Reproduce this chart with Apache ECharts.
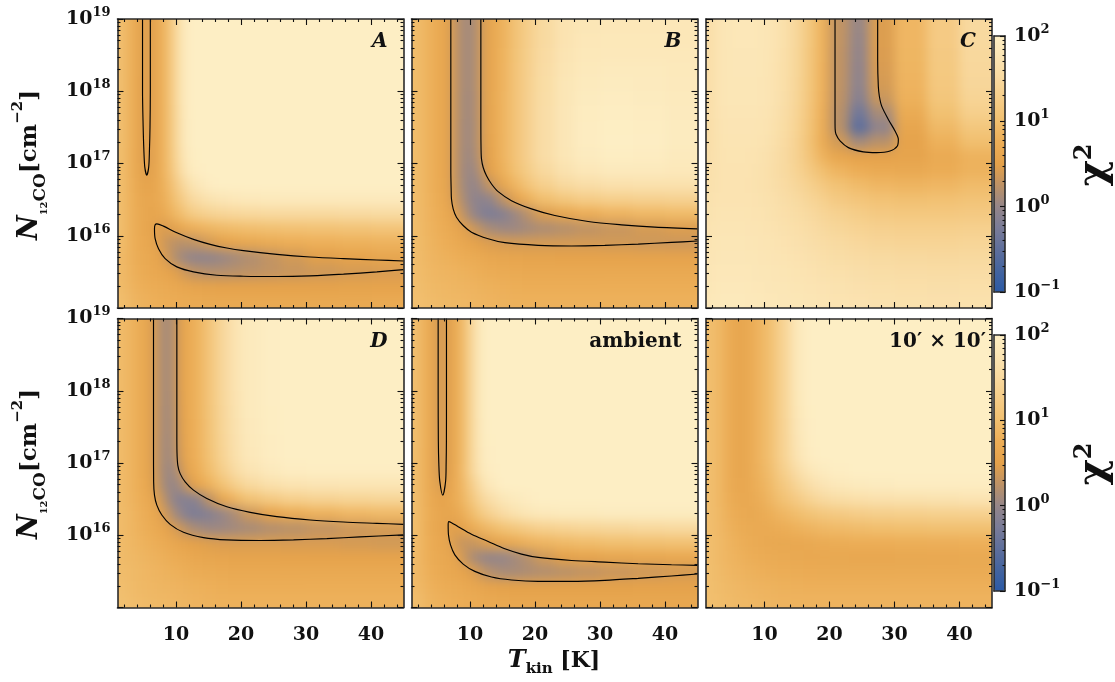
<!DOCTYPE html>
<html><head><meta charset="utf-8">
<script src="https://cdn.jsdelivr.net/npm/echarts@6.0.0/dist/echarts.min.js"></script>
<style>html,body{margin:0;padding:0;background:#fff}#wrap{position:relative;width:1115px;height:682px;overflow:hidden}
#c{position:absolute;left:0;top:0;width:1115px;height:682px;z-index:5}</style>
</head><body><div id="wrap"><div id="c"></div></div>
<script>
// ---------------- DATA ----------------
// cell edges of the chi^2 grids: Tkin [K] and log10 N(12CO) [cm^-2] (rows listed top -> bottom)
const tkinEdges = [1,2,3,4,5,6,7,8,9,10,11,12,14,16,18,20,23,26,30,35,40,45];
const logNEdges = [19,18.8,18.6,18.4,18.2,18,17.8,17.6,17.4,17.2,17,16.8,16.6,16.4,16.2,16,15.8,15.6,15.4,15.2,15];
const xMajorTicks = [10,20,30,40];
const xMinorTicks = [2,4,6,8,12,14,16,18,22,24,26,28,32,34,36,38,42,44];
const yDecades = [15,16,17,18];
const yMajorTicks = [15,16,17,18,19];
const yLabelTicks = [16,17,18,19];
const cbDecades = [-1,0,1];
const cbLabelTicks = [-1,0,1,2];
const minorMultipliers = [2,3,4,5,6,7,8,9];
const panelLabels = ['A','B','C','D','ambient','10\u2032 \u00d7 10\u2032'];

// log10(chi^2), rows top (logN 18.9) -> bottom (15.1)
const chiA = [
[1.02,0.86,0.7,0.56,0.42,0.55,0.72,0.95,1.3,1.7,1.95,2,2,2,2,2,2,2,2,2,2],
[1.02,0.86,0.7,0.56,0.42,0.55,0.72,0.95,1.3,1.7,1.95,2,2,2,2,2,2,2,2,2,2],
[1.02,0.86,0.7,0.56,0.42,0.55,0.72,0.95,1.3,1.7,1.95,2,2,2,2,2,2,2,2,2,2],
[1.02,0.86,0.7,0.56,0.42,0.55,0.72,0.95,1.3,1.7,1.95,2,2,2,2,2,2,2,2,2,2],
[1.02,0.86,0.7,0.55,0.42,0.55,0.72,0.95,1.3,1.7,1.95,2,2,2,2,2,2,2,2,2,2],
[1.02,0.86,0.7,0.55,0.42,0.55,0.72,0.95,1.3,1.7,1.95,2,2,2,2,2,2,2,2,2,2],
[1.02,0.86,0.7,0.55,0.42,0.55,0.72,0.95,1.29,1.68,1.94,2,2,2,2,2,2,2,2,2,2],
[1.02,0.86,0.7,0.55,0.42,0.55,0.72,0.95,1.28,1.67,1.93,2,2,2,2,2,2,2,2,2,2],
[1.01,0.86,0.7,0.55,0.42,0.55,0.72,0.95,1.28,1.66,1.92,2,2,2,2,2,2,2,2,2,2],
[1.0,0.85,0.7,0.55,0.42,0.55,0.72,0.95,1.26,1.63,1.88,1.99,2,2,2,2,2,2,2,2,2],
[1.0,0.85,0.7,0.56,0.46,0.56,0.72,0.93,1.22,1.55,1.8,1.95,2,2,2,2,2,2,2,2,2],
[1.0,0.85,0.72,0.6,0.55,0.6,0.7,0.88,1.1,1.35,1.55,1.8,1.95,2,2,2,2,2,2,2,2],
[1.0,0.85,0.74,0.64,0.6,0.62,0.68,0.82,1.0,1.18,1.35,1.55,1.7,1.78,1.82,1.85,1.87,1.88,1.88,1.88,1.88],
[1.0,0.86,0.75,0.66,0.6,0.58,0.62,0.72,0.85,0.98,1.1,1.26,1.36,1.42,1.46,1.48,1.5,1.5,1.5,1.52,1.54],
[1.0,0.86,0.74,0.66,0.6,0.55,0.45,0.42,0.5,0.6,0.68,0.78,0.86,0.92,0.96,0.99,1.02,1.04,1.06,1.08,1.1],
[0.98,0.86,0.75,0.68,0.62,0.58,0.45,0.32,0.25,0.22,0.22,0.28,0.4,0.5,0.58,0.64,0.7,0.74,0.78,0.8,0.82],
[0.95,0.85,0.76,0.7,0.66,0.62,0.55,0.4,0.22,0.1,0.02,-0.05,-0.05,0.02,0.1,0.18,0.28,0.38,0.48,0.55,0.6],
[0.95,0.86,0.78,0.72,0.68,0.65,0.62,0.58,0.5,0.42,0.35,0.25,0.2,0.2,0.22,0.25,0.28,0.32,0.36,0.4,0.42],
[0.96,0.88,0.82,0.78,0.75,0.72,0.7,0.68,0.65,0.62,0.6,0.56,0.54,0.53,0.53,0.53,0.53,0.53,0.53,0.54,0.55],
[1.0,0.92,0.86,0.82,0.8,0.78,0.76,0.74,0.72,0.71,0.7,0.68,0.67,0.66,0.66,0.66,0.66,0.66,0.66,0.67,0.68]
];
const chiB = [
[0.98,0.9,0.82,0.74,0.64,0.56,0.35,0.15,0.08,0.12,0.35,0.6,0.82,1.08,1.3,1.52,1.72,1.8,1.82,1.82,1.82],
[0.98,0.9,0.82,0.74,0.64,0.56,0.35,0.15,0.08,0.12,0.35,0.6,0.82,1.08,1.31,1.53,1.73,1.82,1.84,1.84,1.83],
[0.98,0.9,0.82,0.74,0.64,0.56,0.35,0.15,0.08,0.12,0.35,0.6,0.83,1.09,1.32,1.55,1.75,1.84,1.86,1.86,1.85],
[0.98,0.9,0.82,0.74,0.64,0.56,0.35,0.15,0.08,0.12,0.35,0.6,0.84,1.1,1.33,1.57,1.77,1.87,1.89,1.89,1.87],
[0.98,0.9,0.82,0.74,0.64,0.56,0.35,0.15,0.08,0.12,0.35,0.6,0.84,1.1,1.34,1.58,1.79,1.9,1.92,1.91,1.88],
[0.98,0.9,0.82,0.74,0.64,0.56,0.35,0.14,0.07,0.11,0.34,0.6,0.85,1.1,1.35,1.59,1.8,1.92,1.95,1.93,1.9],
[0.98,0.9,0.82,0.74,0.64,0.56,0.35,0.14,0.07,0.11,0.34,0.59,0.85,1.1,1.35,1.6,1.81,1.94,1.97,1.95,1.91],
[0.98,0.9,0.82,0.74,0.64,0.56,0.35,0.13,0.06,0.1,0.33,0.58,0.85,1.1,1.35,1.6,1.81,1.95,1.99,1.97,1.92],
[0.98,0.9,0.82,0.74,0.64,0.56,0.35,0.13,0.06,0.1,0.33,0.57,0.85,1.1,1.35,1.6,1.81,1.95,2,1.98,1.92],
[0.98,0.9,0.82,0.74,0.64,0.56,0.35,0.12,0.05,0.08,0.3,0.55,0.85,1.1,1.35,1.6,1.8,1.93,1.97,1.96,1.9],
[0.98,0.9,0.82,0.74,0.65,0.56,0.35,0.12,0.03,0.03,0.2,0.5,0.8,1.05,1.28,1.5,1.7,1.82,1.88,1.88,1.85],
[0.98,0.9,0.82,0.75,0.66,0.57,0.36,0.14,0.02,-0.02,0.05,0.3,0.6,0.88,1.12,1.32,1.5,1.6,1.66,1.68,1.68],
[0.98,0.9,0.83,0.76,0.68,0.6,0.42,0.2,0.05,-0.06,-0.1,-0.05,0.25,0.55,0.8,1.0,1.15,1.25,1.3,1.33,1.35],
[0.98,0.9,0.84,0.78,0.72,0.65,0.55,0.35,0.15,0.0,-0.12,-0.22,-0.15,0.05,0.25,0.45,0.6,0.74,0.84,0.9,0.94],
[0.98,0.9,0.85,0.8,0.75,0.7,0.62,0.55,0.45,0.35,0.25,0.12,0.05,0.05,0.1,0.15,0.2,0.26,0.32,0.4,0.45],
[0.98,0.91,0.86,0.82,0.78,0.75,0.7,0.65,0.6,0.55,0.5,0.45,0.42,0.4,0.4,0.4,0.4,0.4,0.38,0.36,0.35],
[0.98,0.92,0.88,0.85,0.82,0.8,0.78,0.75,0.72,0.7,0.68,0.62,0.6,0.58,0.57,0.56,0.55,0.55,0.55,0.55,0.55],
[0.98,0.94,0.9,0.88,0.86,0.85,0.83,0.82,0.8,0.78,0.76,0.72,0.7,0.68,0.67,0.66,0.66,0.66,0.66,0.66,0.66],
[1.0,0.96,0.93,0.9,0.9,0.88,0.87,0.86,0.85,0.84,0.82,0.8,0.78,0.76,0.75,0.75,0.75,0.75,0.75,0.75,0.75],
[1.02,0.98,0.96,0.94,0.92,0.91,0.9,0.9,0.88,0.87,0.86,0.84,0.82,0.8,0.8,0.8,0.8,0.8,0.8,0.8,0.8]
];
const chiC = [
[1.6,1.72,1.78,1.8,1.82,1.82,1.82,1.82,1.8,1.78,1.75,1.65,1.45,1.15,0.8,0.28,0.02,0.45,0.88,1.22,1.5],
[1.6,1.72,1.78,1.8,1.82,1.82,1.82,1.82,1.8,1.78,1.75,1.65,1.45,1.15,0.8,0.28,0.0,0.45,0.88,1.22,1.5],
[1.6,1.72,1.78,1.8,1.81,1.81,1.81,1.81,1.8,1.78,1.74,1.64,1.44,1.14,0.8,0.27,-0.02,0.44,0.87,1.2,1.48],
[1.6,1.72,1.78,1.8,1.81,1.81,1.81,1.81,1.79,1.77,1.73,1.63,1.44,1.14,0.79,0.27,-0.04,0.42,0.86,1.19,1.47],
[1.6,1.72,1.78,1.8,1.8,1.8,1.8,1.8,1.78,1.76,1.73,1.63,1.43,1.13,0.79,0.26,-0.06,0.4,0.84,1.17,1.45],
[1.6,1.72,1.78,1.8,1.8,1.8,1.8,1.8,1.78,1.76,1.72,1.62,1.42,1.12,0.78,0.25,-0.12,0.33,0.8,1.13,1.4],
[1.6,1.72,1.76,1.78,1.78,1.78,1.78,1.78,1.76,1.74,1.7,1.6,1.4,1.1,0.75,0.22,-0.32,0.12,0.7,1.03,1.3],
[1.6,1.7,1.75,1.76,1.76,1.76,1.76,1.76,1.74,1.72,1.68,1.58,1.38,1.08,0.72,0.22,-0.5,-0.05,0.6,0.92,1.15],
[1.6,1.7,1.74,1.75,1.75,1.75,1.75,1.74,1.72,1.7,1.65,1.55,1.35,1.05,0.7,0.38,0.1,0.22,0.55,0.8,1.0],
[1.62,1.7,1.73,1.74,1.74,1.74,1.73,1.72,1.7,1.67,1.62,1.52,1.35,1.1,0.82,0.6,0.52,0.52,0.56,0.68,0.82],
[1.64,1.7,1.72,1.73,1.73,1.72,1.72,1.7,1.68,1.65,1.6,1.52,1.38,1.2,1.0,0.85,0.75,0.68,0.66,0.72,0.82],
[1.66,1.7,1.72,1.72,1.72,1.72,1.71,1.7,1.68,1.65,1.62,1.55,1.45,1.32,1.18,1.05,0.95,0.88,0.85,0.88,0.95],
[1.68,1.72,1.73,1.73,1.73,1.73,1.72,1.71,1.7,1.68,1.66,1.6,1.52,1.42,1.32,1.2,1.12,1.06,1.02,1.04,1.08],
[1.7,1.74,1.75,1.75,1.75,1.75,1.74,1.73,1.72,1.7,1.68,1.64,1.58,1.5,1.42,1.34,1.26,1.2,1.17,1.17,1.2],
[1.72,1.76,1.77,1.77,1.77,1.77,1.76,1.75,1.74,1.72,1.71,1.68,1.63,1.57,1.5,1.44,1.38,1.33,1.3,1.3,1.32],
[1.74,1.78,1.79,1.79,1.79,1.79,1.78,1.77,1.76,1.75,1.74,1.71,1.67,1.62,1.57,1.52,1.47,1.43,1.4,1.4,1.42],
[1.76,1.8,1.81,1.81,1.81,1.81,1.8,1.79,1.78,1.77,1.76,1.74,1.71,1.67,1.63,1.59,1.55,1.52,1.5,1.49,1.5],
[1.78,1.82,1.83,1.83,1.83,1.83,1.82,1.81,1.8,1.79,1.78,1.77,1.74,1.71,1.68,1.65,1.62,1.59,1.57,1.56,1.57],
[1.8,1.84,1.85,1.85,1.85,1.85,1.84,1.83,1.82,1.81,1.8,1.79,1.77,1.75,1.72,1.7,1.67,1.65,1.63,1.62,1.63],
[1.82,1.86,1.87,1.87,1.87,1.87,1.86,1.85,1.84,1.83,1.82,1.81,1.79,1.77,1.75,1.73,1.71,1.69,1.68,1.67,1.68]
];
const chiD = [
[0.96,0.88,0.8,0.7,0.6,0.45,0.18,0.08,0.18,0.5,0.62,0.8,1.1,1.45,1.72,1.9,1.98,2,2,2,2],
[0.96,0.88,0.8,0.7,0.6,0.45,0.18,0.08,0.18,0.5,0.62,0.8,1.1,1.45,1.72,1.9,1.98,2,2,2,2],
[0.96,0.88,0.8,0.7,0.6,0.45,0.18,0.08,0.18,0.5,0.62,0.8,1.1,1.45,1.72,1.9,1.98,2,2,2,2],
[0.96,0.88,0.8,0.7,0.6,0.45,0.18,0.08,0.18,0.5,0.62,0.8,1.1,1.45,1.72,1.9,1.98,2,2,2,2],
[0.96,0.88,0.8,0.7,0.6,0.45,0.18,0.08,0.18,0.5,0.62,0.8,1.1,1.45,1.72,1.9,1.98,2,2,2,2],
[0.96,0.88,0.8,0.7,0.6,0.45,0.18,0.08,0.17,0.49,0.62,0.8,1.1,1.44,1.71,1.9,1.98,2,2,2,2],
[0.96,0.88,0.8,0.7,0.6,0.45,0.18,0.07,0.16,0.48,0.61,0.8,1.09,1.43,1.7,1.89,1.97,2,2,2,2],
[0.96,0.88,0.8,0.7,0.6,0.45,0.18,0.07,0.15,0.47,0.6,0.79,1.08,1.42,1.69,1.88,1.97,2,2,2,2],
[0.96,0.88,0.8,0.7,0.6,0.45,0.17,0.06,0.14,0.45,0.59,0.79,1.07,1.4,1.67,1.87,1.96,2,2,2,2],
[0.96,0.88,0.8,0.7,0.6,0.45,0.17,0.06,0.12,0.42,0.58,0.78,1.05,1.38,1.65,1.85,1.95,2,2,2,2],
[0.96,0.88,0.8,0.7,0.6,0.46,0.17,0.04,0.05,0.3,0.52,0.72,0.98,1.28,1.55,1.75,1.88,1.95,1.97,1.97,1.97],
[0.96,0.88,0.8,0.72,0.62,0.48,0.22,0.04,-0.02,0.08,0.3,0.55,0.8,1.05,1.3,1.5,1.65,1.72,1.76,1.77,1.77],
[0.96,0.88,0.82,0.75,0.68,0.58,0.4,0.15,-0.05,-0.15,-0.16,-0.1,0.25,0.6,0.85,1.05,1.2,1.3,1.36,1.4,1.42],
[0.96,0.9,0.85,0.78,0.72,0.65,0.55,0.35,0.15,0.0,-0.15,-0.22,-0.15,0.0,0.15,0.35,0.55,0.7,0.8,0.88,0.92],
[0.96,0.9,0.85,0.8,0.75,0.7,0.65,0.55,0.45,0.35,0.25,0.12,0.05,0.05,0.08,0.12,0.18,0.22,0.28,0.35,0.4],
[0.96,0.9,0.87,0.83,0.8,0.77,0.73,0.68,0.63,0.58,0.55,0.5,0.46,0.44,0.43,0.43,0.43,0.42,0.42,0.4,0.38],
[0.96,0.92,0.9,0.87,0.85,0.82,0.8,0.77,0.73,0.7,0.68,0.63,0.6,0.58,0.57,0.56,0.56,0.55,0.55,0.55,0.55],
[0.97,0.94,0.92,0.9,0.88,0.86,0.84,0.82,0.8,0.78,0.76,0.72,0.7,0.68,0.67,0.66,0.66,0.66,0.66,0.66,0.66],
[1.0,0.96,0.93,0.9,0.9,0.88,0.87,0.86,0.85,0.84,0.82,0.8,0.78,0.76,0.75,0.75,0.75,0.75,0.75,0.75,0.75],
[1.02,0.98,0.96,0.94,0.92,0.91,0.9,0.9,0.88,0.87,0.86,0.84,0.82,0.8,0.8,0.8,0.8,0.8,0.8,0.8,0.8]
];
const chiAmbient = [
[1.02,0.86,0.7,0.55,0.32,0.5,0.64,0.86,1.2,1.6,1.9,2,2,2,2,2,2,2,2,2,2],
[1.02,0.86,0.7,0.55,0.32,0.5,0.64,0.86,1.2,1.6,1.9,2,2,2,2,2,2,2,2,2,2],
[1.02,0.86,0.7,0.55,0.32,0.5,0.64,0.86,1.2,1.6,1.9,2,2,2,2,2,2,2,2,2,2],
[1.02,0.86,0.7,0.55,0.32,0.5,0.64,0.86,1.2,1.6,1.9,2,2,2,2,2,2,2,2,2,2],
[1.02,0.86,0.7,0.55,0.32,0.5,0.64,0.86,1.2,1.6,1.9,2,2,2,2,2,2,2,2,2,2],
[1.02,0.86,0.7,0.55,0.32,0.5,0.64,0.86,1.2,1.6,1.9,2,2,2,2,2,2,2,2,2,2],
[1.02,0.86,0.7,0.55,0.32,0.5,0.64,0.86,1.2,1.59,1.89,2,2,2,2,2,2,2,2,2,2],
[1.01,0.86,0.7,0.55,0.32,0.5,0.64,0.86,1.2,1.58,1.88,2,2,2,2,2,2,2,2,2,2],
[1.01,0.86,0.7,0.55,0.32,0.5,0.64,0.86,1.2,1.58,1.87,1.99,2,2,2,2,2,2,2,2,2],
[1.0,0.85,0.7,0.55,0.32,0.5,0.64,0.86,1.2,1.57,1.85,1.98,2,2,2,2,2,2,2,2,2],
[1.0,0.85,0.7,0.55,0.33,0.5,0.65,0.88,1.2,1.55,1.8,1.95,2,2,2,2,2,2,2,2,2],
[1.0,0.85,0.7,0.58,0.4,0.55,0.68,0.85,1.1,1.35,1.6,1.85,2,2,2,2,2,2,2,2,2],
[1.0,0.85,0.72,0.62,0.55,0.6,0.68,0.82,1.0,1.2,1.4,1.6,1.8,1.9,1.95,2,2,2,2,2,2],
[1.0,0.85,0.75,0.65,0.6,0.58,0.6,0.7,0.85,1.0,1.15,1.35,1.55,1.7,1.8,1.85,1.9,1.9,1.92,1.92,1.92],
[1.0,0.85,0.72,0.65,0.6,0.55,0.45,0.5,0.62,0.72,0.8,0.92,1.05,1.15,1.25,1.32,1.38,1.42,1.45,1.48,1.5],
[0.98,0.85,0.75,0.68,0.62,0.58,0.42,0.32,0.3,0.33,0.38,0.48,0.6,0.7,0.8,0.86,0.92,0.96,1.0,1.02,1.04],
[0.95,0.85,0.75,0.7,0.66,0.62,0.58,0.45,0.25,0.12,0.05,-0.02,0.0,0.1,0.22,0.38,0.5,0.56,0.6,0.63,0.65],
[0.95,0.85,0.78,0.72,0.68,0.65,0.62,0.58,0.52,0.45,0.35,0.2,0.12,0.12,0.15,0.18,0.22,0.27,0.32,0.36,0.4],
[0.95,0.88,0.82,0.78,0.75,0.72,0.7,0.68,0.65,0.62,0.6,0.55,0.52,0.5,0.5,0.5,0.5,0.5,0.5,0.52,0.52],
[1.0,0.92,0.86,0.82,0.8,0.78,0.76,0.74,0.72,0.7,0.68,0.66,0.64,0.63,0.63,0.63,0.63,0.63,0.63,0.63,0.63]
];
const chiWide = [
[1.0,0.95,0.85,0.72,0.62,0.6,0.66,0.78,0.88,0.98,1.1,1.4,1.85,2,2,2,2,2,2,2,2],
[1.0,0.95,0.85,0.72,0.62,0.6,0.66,0.78,0.88,0.98,1.1,1.4,1.85,2,2,2,2,2,2,2,2],
[1.0,0.95,0.85,0.72,0.62,0.6,0.66,0.78,0.88,0.98,1.1,1.4,1.85,2,2,2,2,2,2,2,2],
[1.0,0.95,0.85,0.72,0.62,0.6,0.66,0.78,0.88,0.98,1.1,1.4,1.85,2,2,2,2,2,2,2,2],
[1.0,0.95,0.85,0.72,0.62,0.6,0.66,0.78,0.88,0.98,1.1,1.4,1.85,2,2,2,2,2,2,2,2],
[1.0,0.95,0.85,0.72,0.62,0.6,0.66,0.78,0.88,0.98,1.1,1.4,1.84,2,2,2,2,2,2,2,2],
[1.0,0.95,0.85,0.72,0.62,0.6,0.66,0.78,0.88,0.98,1.1,1.4,1.83,1.99,2,2,2,2,2,2,2],
[1.0,0.95,0.85,0.72,0.62,0.6,0.66,0.78,0.88,0.98,1.1,1.39,1.81,1.98,2,2,2,2,2,2,2],
[1.0,0.95,0.85,0.72,0.62,0.6,0.66,0.78,0.88,0.98,1.1,1.39,1.78,1.97,2,2,2,2,2,2,2],
[1.0,0.95,0.85,0.72,0.62,0.6,0.66,0.78,0.88,0.98,1.1,1.38,1.75,1.95,2,2,2,2,2,2,2],
[1.0,0.95,0.85,0.72,0.63,0.6,0.66,0.77,0.86,0.95,1.06,1.3,1.6,1.82,1.93,1.97,2,2,2,2,2],
[1.0,0.95,0.85,0.73,0.65,0.62,0.66,0.74,0.82,0.9,1.0,1.18,1.42,1.62,1.76,1.85,1.9,1.93,1.95,1.95,1.95],
[1.0,0.95,0.85,0.75,0.68,0.65,0.66,0.7,0.77,0.85,0.92,1.05,1.22,1.38,1.5,1.58,1.63,1.66,1.68,1.7,1.72],
[1.0,0.95,0.87,0.78,0.72,0.68,0.66,0.67,0.7,0.75,0.8,0.88,0.98,1.07,1.15,1.2,1.25,1.28,1.3,1.32,1.33],
[1.0,0.95,0.88,0.82,0.76,0.72,0.7,0.68,0.68,0.68,0.7,0.74,0.8,0.85,0.9,0.93,0.96,0.98,1.0,1.02,1.02],
[1.0,0.95,0.9,0.85,0.8,0.77,0.73,0.7,0.68,0.66,0.65,0.64,0.65,0.67,0.7,0.72,0.74,0.75,0.76,0.77,0.78],
[1.0,0.95,0.9,0.86,0.83,0.8,0.77,0.75,0.73,0.71,0.7,0.68,0.66,0.65,0.65,0.64,0.63,0.63,0.64,0.65,0.66],
[1.0,0.96,0.92,0.88,0.86,0.84,0.82,0.8,0.78,0.77,0.76,0.74,0.72,0.71,0.7,0.7,0.7,0.7,0.7,0.7,0.7],
[1.0,0.97,0.94,0.92,0.9,0.88,0.86,0.85,0.84,0.83,0.82,0.8,0.79,0.78,0.78,0.78,0.78,0.78,0.78,0.78,0.78],
[1.0,0.98,0.96,0.94,0.92,0.9,0.9,0.88,0.87,0.86,0.85,0.84,0.83,0.83,0.83,0.83,0.83,0.83,0.83,0.83,0.83]
];

// contour lines, [Tkin, log10 N]
const contourA_tube = [[4.85,19],[4.85,18],[4.95,17.5],[5.05,17.2],[5.2,16.95],[5.5,16.84],[5.8,16.95],[5.92,17.2],[6.0,17.5],[6.05,18],[6.05,19]];
const contourA_band = [[45,15.651],[40.9,15.665],[35.77,15.683],[30.64,15.706],[25.51,15.743],[20.38,15.794],[17.82,15.83],[15.26,15.881],[12.69,15.95],[10.13,16.041],[8.08,16.133],[7.05,16.165],[6.79,16.151],[6.69,16.096],[6.79,15.959],[7.31,15.821],[8.33,15.683],[10.13,15.569],[12.69,15.5],[16.28,15.454],[20.38,15.44],[25.51,15.436],[30.64,15.445],[35.77,15.468],[40.9,15.5],[45,15.532]];
const contourB_outer = [[7.05,19],[7.05,17.5],[7.05,16.9],[7.1,16.647],[7.15,16.509],[7.41,16.372],[7.92,16.257],[8.95,16.142],[10.23,16.05],[12.79,15.959],[15.36,15.904],[20.49,15.867],[25.62,15.858],[30.74,15.867],[35.87,15.885],[41.0,15.908],[45,15.927]];
const contourB_inner = [[11.67,19],[11.67,17.5],[11.7,17.197],[11.77,17.06],[12.03,16.945],[12.54,16.83],[13.31,16.716],[14.33,16.61],[16.38,16.486],[19.46,16.372],[23.05,16.28],[28.18,16.197],[33.31,16.151],[38.44,16.119],[45,16.096]];
const contourC = [[20.85,19],[20.85,17.6],[20.87,17.472],[21.0,17.404],[21.62,17.312],[22.9,17.22],[25.2,17.161],[27.26,17.151],[29.31,17.174],[30.44,17.243],[30.59,17.335],[30.08,17.45],[29.05,17.61],[28.03,17.794],[27.67,17.931],[27.51,18.069],[27.41,18.436],[27.41,19]];
const contourD_outer = [[6.54,19],[6.54,17.2],[6.56,16.739],[6.69,16.555],[7.05,16.417],[7.82,16.28],[9.1,16.151],[11.15,16.041],[14.23,15.968],[17.82,15.936],[22.95,15.927],[28.08,15.936],[33.21,15.954],[38.33,15.977],[45,16.005]];
const contourD_inner = [[10.13,19],[10.13,17.4],[10.15,17.151],[10.28,16.968],[10.64,16.853],[11.41,16.739],[12.69,16.624],[14.74,16.509],[17.82,16.394],[21.41,16.317],[25.51,16.257],[30.64,16.211],[35.77,16.183],[40.9,16.165],[45,16.151]];
const contourAmb_tube = [[5.1,19],[5.1,18],[5.13,17.3],[5.2,17.0],[5.35,16.75],[5.82,16.555],[6.25,16.75],[6.33,17.0],[6.37,17.3],[6.38,18],[6.38,19]];
const contourAmb_band = [[45,15.583],[41.0,15.592],[35.87,15.606],[30.74,15.628],[25.62,15.651],[20.49,15.693],[17.92,15.739],[15.36,15.812],[12.79,15.913],[10.23,16.014],[8.18,16.119],[7.15,16.174],[6.74,16.188],[6.64,16.142],[6.69,16.005],[7.0,15.867],[7.67,15.729],[8.95,15.601],[10.74,15.5],[13.31,15.422],[16.38,15.381],[20.49,15.362],[25.62,15.362],[30.74,15.376],[35.87,15.404],[41.0,15.436],[45,15.463]];

// ---------------- CHART ----------------
const FONT = 'DejaVu Serif';
const INK = '#111';
const cmap = ['#2b5aa6','#44649f','#5f6f9c','#7a7c98','#958689','#bd9266','#e4a14a','#ecad56','#f1bf6f','#f5cc87','#f8d99f','#fbe4b3','#fdeec4'];
const chiMaps = [chiA, chiB, chiC, chiD, chiAmbient, chiWide];
const contourSets = [[contourA_tube, contourA_band],[contourB_outer, contourB_inner],[contourC],[contourD_outer, contourD_inner],[contourAmb_tube, contourAmb_band],[]];
const panelLeft = [117.5, 411.5, 706];
const panelTop = [19, 318.5];
const PW = 286, PH = 289;
const cbTop = [36, 335];
const PADX = 18;      // extra canvas around each map so the smoothing has no edge fade
const SMOOTH = 5.5;   // display smoothing of the cell map (px)

function buildCells(map) {
  const out = [];
  for (let r = 0; r < map.length; r++)
    for (let c = 0; c < map[r].length; c++)
      out.push([tkinEdges[c], tkinEdges[c + 1], logNEdges[r + 1], logNEdges[r], map[r][c]]);
  return out;
}
const lastX = tkinEdges[tkinEdges.length - 1], lastY = logNEdges[logNEdges.length - 1];
function renderCell(params, api) {
  const x0 = api.value(0), x1 = api.value(1), y0 = api.value(2), y1 = api.value(3);
  const a = api.coord([x0, y1]);
  const b = api.coord([x1, y0]);
  let L = a[0], R = b[0] + 0.8, T = a[1], B = b[1] + 0.8;
  if (x0 === tkinEdges[0]) L -= PADX;
  if (x1 === lastX) R += PADX;
  if (y1 === logNEdges[0]) T -= PADX;
  if (y0 === lastY) B += PADX;
  return {type: 'rect', shape: {x: L, y: T, width: R - L, height: B - T}, style: {fill: api.visual('color')}};
}

// one smoothed cell-map layer per panel, underneath the axes layer
const wrap = document.getElementById('wrap');
for (let p = 0; p < 6; p++) {
  const row = Math.floor(p / 3), col = p % 3;
  const outer = document.createElement('div');
  outer.style.cssText = 'position:absolute;overflow:hidden;z-index:1;left:' + panelLeft[col] + 'px;top:' + panelTop[row] + 'px;width:' + PW + 'px;height:' + PH + 'px;';
  const inner = document.createElement('div');
  inner.style.cssText = 'position:absolute;left:' + (-PADX) + 'px;top:' + (-PADX) + 'px;width:' + (PW + 2 * PADX) + 'px;height:' + (PH + 2 * PADX) + 'px;filter:blur(' + SMOOTH + 'px);';
  outer.appendChild(inner);
  wrap.appendChild(outer);
  const hc = echarts.init(inner, null, {renderer: 'canvas'});
  hc.setOption({
    animation: false,
    grid: {left: PADX, top: PADX, width: PW, height: PH},
    xAxis: {type: 'value', min: 1, max: 45, show: false},
    yAxis: {type: 'value', min: 15, max: 19, show: false},
    visualMap: {type: 'continuous', min: -1, max: 2, dimension: 4, show: false, inRange: {color: cmap}},
    series: [{type: 'custom', data: buildCells(chiMaps[p]), encode: {x: [0, 1], y: [2, 3]},
      renderItem: renderCell, clip: false, silent: true}]
  });
}

// axes / contours / colorbars / text layer
const yMinor = [].concat(...yDecades.map(d => minorMultipliers.map(k => d + Math.log10(k))));
const cbMinor = [].concat(...cbDecades.map(d => minorMultipliers.map(k => d + Math.log10(k))));
const expFmt = v => '{b|10}{s|' + (v < 0 ? '\u2212' + (-v) : v) + '}';
const expRich = {
  b: {fontFamily: FONT, fontWeight: 'bold', fontSize: 19, color: INK, lineHeight: 26},
  s: {fontFamily: FONT, fontWeight: 'bold', fontSize: 13, color: INK, lineHeight: 12, verticalAlign: 'top'}
};
const spine = {show: true, onZero: false, lineStyle: {color: '#2b2b2b', width: 1.6}};

const grids = [], xAxes = [], yAxes = [], series = [];
function tickAxis(base, pos, values, len, labelOpt) {
  return Object.assign({}, base, {
    position: pos, z: 10,
    axisLine: Object.assign({}, spine, {show: len > 4}),
    axisTick: {show: true, inside: true, length: len, customValues: values, lineStyle: {color: INK, width: 1.1}},
    axisLabel: labelOpt || {show: false},
    splitLine: {show: false}
  });
}
for (let p = 0; p < 6; p++) {
  const row = Math.floor(p / 3), col = p % 3;
  grids.push({left: panelLeft[col], top: panelTop[row], width: PW, height: PH});
  const xb = {type: 'value', gridIndex: p, min: 1, max: 45};
  const yb = {type: 'value', gridIndex: p, min: 15, max: 19};
  const xi = xAxes.length, yi = yAxes.length;
  xAxes.push(tickAxis(xb, 'bottom', xMajorTicks, 6, row === 1 ?
    {show: true, customValues: xMajorTicks, margin: 18, color: INK, fontFamily: FONT, fontWeight: 'bold', fontSize: 19} : {show: false}));
  xAxes.push(tickAxis(xb, 'bottom', xMinorTicks, 3));
  xAxes.push(tickAxis(xb, 'top', xMajorTicks, 6));
  xAxes.push(tickAxis(xb, 'top', xMinorTicks, 3));
  yAxes.push(tickAxis(yb, 'left', yMajorTicks, 6, col === 0 ?
    {show: true, customValues: yLabelTicks, margin: 7, formatter: expFmt, rich: expRich} : {show: false}));
  yAxes.push(tickAxis(yb, 'left', yMinor, 3));
  yAxes.push(tickAxis(yb, 'right', yMajorTicks, 6));
  yAxes.push(tickAxis(yb, 'right', yMinor, 3));
  contourSets[p].forEach(cs => series.push({type: 'line', xAxisIndex: xi, yAxisIndex: yi, data: cs,
    showSymbol: false, symbol: 'none', smooth: 0.3, clip: true, silent: true, z: 5,
    lineStyle: {color: '#000', width: 1.15}}));
}
// colorbars
for (let r = 0; r < 2; r++) {
  const g = grids.length;
  grids.push({left: 994, top: cbTop[r], width: 11, height: 256});
  const xb = {type: 'value', gridIndex: g, min: 0, max: 1, z: 10, axisTick: {show: false}, axisLabel: {show: false}, splitLine: {show: false}, axisLine: spine};
  xAxes.push(Object.assign({}, xb, {position: 'bottom'}));
  xAxes.push(Object.assign({}, xb, {position: 'top'}));
  const yb = {type: 'value', gridIndex: g, min: -1, max: 2};
  yAxes.push(Object.assign({}, yb, {position: 'left', z: 10, axisLine: spine, axisTick: {show: false}, axisLabel: {show: false}, splitLine: {show: false}}));
  yAxes.push(tickAxis(yb, 'right', cbLabelTicks, 5, {show: true, customValues: cbLabelTicks, margin: 9, formatter: expFmt, rich: expRich}));
  yAxes.push(tickAxis(yb, 'right', cbMinor, 2.5));
}

const visualMaps = [0, 1].map(r => ({
  type: 'continuous', min: -1, max: 2, dimension: 4, seriesIndex: [],
  left: 994, top: cbTop[r], itemWidth: 11, itemHeight: 256, padding: 0, calculable: false,
  hoverLink: false, realtime: false, show: true, inRange: {color: cmap}, z: 4
}));

const graphics = [];
const yTitle = (cy) => ({type: 'text', x: 30, y: cy, rotation: Math.PI / 2, z: 20, style: {
  text: '{n|N}{i|12}{c|CO}{t|[cm}{e|\u22122}{t|]}', align: 'center', verticalAlign: 'middle', fill: INK,
  rich: {
    n: {fontFamily: FONT, fontStyle: 'italic', fontWeight: 'bold', fontSize: 27, lineHeight: 38, fill: INK},
    i: {fontFamily: FONT, fontWeight: 'bold', fontSize: 10, lineHeight: 24, verticalAlign: 'bottom', fill: INK},
    c: {fontFamily: FONT, fontWeight: 'bold', fontSize: 17, lineHeight: 17, verticalAlign: 'bottom', fill: INK},
    t: {fontFamily: FONT, fontWeight: 'bold', fontSize: 23, lineHeight: 38, fill: INK},
    e: {fontFamily: FONT, fontWeight: 'bold', fontSize: 15, lineHeight: 22, verticalAlign: 'top', fill: INK}
  }}});
graphics.push(yTitle(165), yTitle(464));
graphics.push({type: 'text', x: 554, y: 661, z: 20, style: {
  text: '{n|T}{k|kin}{t| [K]}', align: 'center', verticalAlign: 'middle', fill: INK,
  rich: {
    n: {fontFamily: FONT, fontStyle: 'italic', fontWeight: 'bold', fontSize: 24, lineHeight: 32, fill: INK},
    k: {fontFamily: FONT, fontWeight: 'bold', fontSize: 15, lineHeight: 14, verticalAlign: 'bottom', fill: INK},
    t: {fontFamily: FONT, fontWeight: 'bold', fontSize: 22, lineHeight: 32, fill: INK}
  }}});
[165, 464].forEach(cy => graphics.push({type: 'text', x: 1095, y: cy, rotation: Math.PI / 2, z: 20, style: {
  text: '{c|\u03c7}{s|2}', align: 'center', verticalAlign: 'middle', fill: INK,
  rich: {
    c: {fontFamily: FONT, fontWeight: 'bold', fontSize: 40, lineHeight: 44, fill: INK},
    s: {fontFamily: FONT, fontWeight: 'bold', fontSize: 24, lineHeight: 22, verticalAlign: 'top', fill: INK}
  }}}));
panelLabels.forEach((lab, p) => {
  const row = Math.floor(p / 3), col = p % 3;
  const italic = p < 4;
  graphics.push({type: 'text', x: panelLeft[col] + PW - (p === 5 ? 6 : 16), y: panelTop[row] + 23, z: 20, style: {
    text: lab, align: 'right', verticalAlign: 'middle', fill: INK,
    font: (italic ? 'italic ' : '') + 'bold 20px "' + FONT + '"'}});
});

const chart = echarts.init(document.getElementById('c'), null, {renderer: 'canvas'});
chart.setOption({
  animation: false,
  grid: grids, xAxis: xAxes, yAxis: yAxes,
  visualMap: visualMaps,
  series: series,
  graphic: graphics
});
</script></body></html>
